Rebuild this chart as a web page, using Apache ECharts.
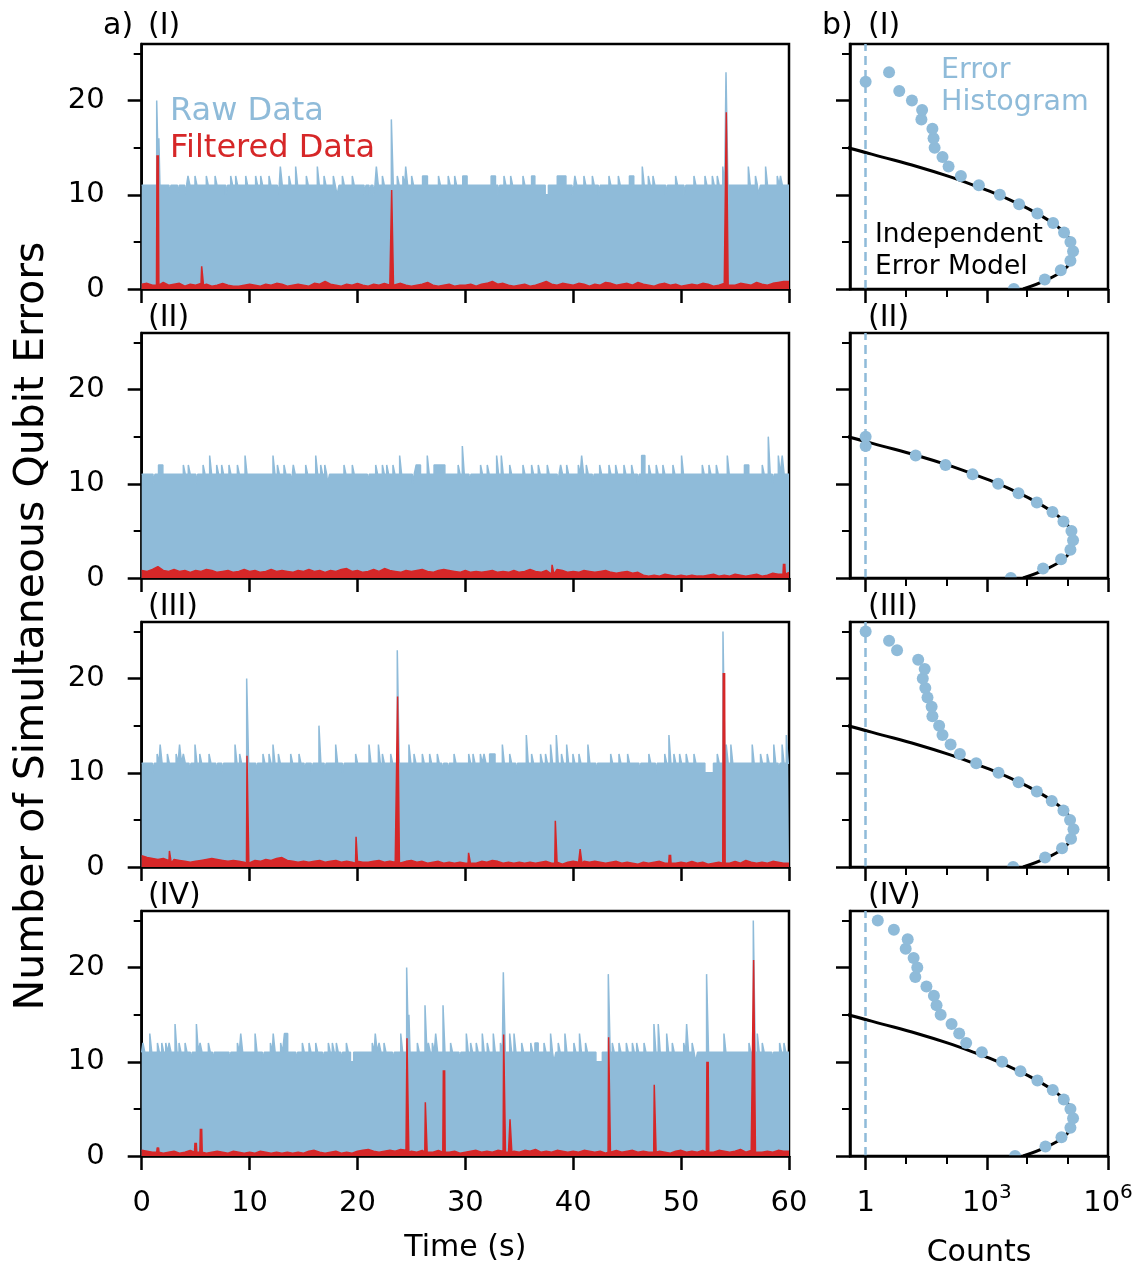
<!DOCTYPE html>
<html><head><meta charset="utf-8">
<script src="https://cdn.jsdelivr.net/npm/echarts@6/dist/echarts.min.js"></script>
<style>html,body{margin:0;padding:0;background:#fff}#c{width:1139px;height:1269px}</style>
</head><body><div id="c"></div>
<script>
// ---------------- DATA ----------------
const timeTicks = [0, 10, 20, 30, 40, 50, 60];
const nTicks = [0, 10, 20];
const nMinorTicks = [5, 15, 25];
const countTicks = [1, 1e3, 1e6];
const countMinorTicks = [10, 100, 1e4, 1e5];
const panelLabels = ['(I)', '(II)', '(III)', '(IV)'];

const RAW_BASE = 11;           // typical top of the raw-data band
// raw data excursions from the band top: [time (s), number of errors, width (s, optional)]
const rawEventsI = [[1.48,20],[1.64,16,0.1],[2.62,10],[3.4,10],[4.07,10],[4.38,12],[5.03,12],[6.08,12],[6.89,12],[7.87,10],[8.34,12],[8.8,12],[9.73,12],[10.65,12],[11.12,12],[11.89,12],[12.66,10],[12.94,13],[13.74,12],[14.36,13],[15.35,12],[16.37,13],[16.99,12],[17.85,12],[18.2,10],[18.69,12],[19.61,12],[20.7,10],[21.16,10],[21.53,10],[21.84,13],[22.4,12],[23.23,18],[23.78,12],[24.3,12],[24.56,13],[25.11,12],[26.26,12,0.45],[27.6,12],[28.5,12],[29.1,12],[29.96,12,0.4],[32.59,12,0.4],[33.1,10],[33.67,12],[34.29,12],[35.43,12],[36.29,12,0.3],[37.55,10,0.3],[38.92,12,0.8],[39.98,10],[40.24,12],[41.08,12],[41.86,12],[42.41,10],[43.4,12],[44.27,12],[45.41,12,0.4],[46.49,13],[47.05,12],[47.48,12],[48.65,10],[49.58,12],[50.35,10],[51.28,12],[52.3,12],[52.98,12],[53.44,12],[53.95,13],[54.25,23],[56.32,13],[56.98,12],[57.26,10],[57.92,13],[59.0,12],[59.3,12]];
const rawEventsII = [[1.14,10],[1.76,12,0.4],[3.95,12],[4.41,12],[5.1,10],[5.78,12],[6.39,13],[7.04,12],[7.5,12],[8.18,12],[8.96,12],[9.67,13],[12.26,13],[12.67,12],[13.28,12],[13.88,10],[14.14,12],[15.29,12],[16.22,13],[16.68,12],[17.06,12],[17.32,10],[18.84,12],[19.61,12],[21.0,10],[21.78,12],[22.4,12],[22.8,12],[23.38,12],[24.0,13],[25.17,10],[25.64,12,0.4],[26.56,13],[27.6,12,1.0],[29.42,12],[29.81,14],[30.43,10],[31.5,12],[32.12,12],[32.99,13],[33.42,13],[34.2,12],[35.43,12],[36.23,12],[36.85,12],[37.68,12],[38.6,10],[38.92,12],[39.48,12],[40.56,12],[40.87,13],[41.3,12],[41.85,10],[42.54,12],[43.4,12],[44.02,12],[44.79,12],[45.5,12],[46.03,10],[46.49,13,0.3],[47.1,12],[47.78,12],[48.4,12],[49.33,12],[50.13,13],[52.05,12],[52.67,12],[53.35,12],[54.37,13],[56.07,12,0.4],[57.61,12],[58.17,15],[58.54,10],[59.1,13],[59.46,13]];
const rawEventsIII = [[1.08,10],[1.52,12],[1.8,13],[2.47,12],[3.28,12],[3.6,13],[3.95,12],[4.48,10],[5.03,13],[5.47,12],[6.33,12],[6.95,10],[7.5,10],[8.74,13],[9.17,12],[9.82,20],[10.65,10],[11.33,12],[11.89,12],[12.26,13],[12.76,12],[13.9,12],[14.67,12],[15.14,10],[15.8,10],[16.52,15],[17.0,10],[18.07,13],[18.69,10],[19.92,12],[21.16,13],[22.03,13],[22.4,12],[23.17,12],[23.78,23],[24.86,13],[25.33,12],[26.1,12],[26.78,12],[27.49,12],[27.9,10],[28.42,10],[29.04,12],[30.4,12],[30.8,12],[31.48,12],[31.82,12],[32.5,12,0.5],[33.52,13],[34.2,12],[34.75,10],[35.74,14],[36.23,12],[37.06,12],[37.52,12],[37.99,13],[38.52,14],[39.0,12],[39.48,13],[40.06,12],[40.62,12],[41.45,13],[42.17,10],[43.56,12],[44.33,12],[45.13,12],[46.18,10],[47.1,12],[47.7,10],[48.57,12],[48.96,14],[49.42,12],[49.95,12],[50.56,12],[51.28,12],[52.6,10,0.8],[53.44,12],[53.97,25],[54.27,13],[54.7,13],[56.68,13],[57.45,12],[58.07,12],[58.68,13],[59.08,10],[59.45,13],[59.84,14]];
const rawEventsIV = [[0.2,12],[0.84,13],[1.55,12],[1.95,12],[2.32,12],[2.63,12],[3.18,14],[3.55,12],[4.11,12],[4.6,10],[5.16,14],[5.5,12],[6.27,12],[6.64,10],[8.18,10],[8.96,12],[9.27,13],[10.6,13],[11.27,10],[12.02,12],[12.28,13],[12.97,12],[13.38,13,0.3],[14.36,10],[14.98,12],[15.6,12],[16.22,12],[16.84,10],[17.39,12],[17.76,12],[18.13,12],[18.53,10],[19.06,12],[19.5,10,0.3],[21.46,12],[21.74,13],[22.09,12],[22.55,12],[23.33,10],[24.1,13],[24.65,20],[24.82,15,0.1],[25.64,12],[26.35,16],[26.66,12],[27.03,12],[27.34,13],[28.02,16],[28.72,12],[29.5,10],[30.18,13],[30.58,12],[31.1,12],[31.66,13],[32.12,12],[32.68,13],[33.34,12],[33.61,19.5],[34.2,13],[34.6,13],[35.31,12],[36.15,12],[36.6,12,0.3],[37.38,12],[37.99,13],[38.3,10],[38.7,12],[39.32,13],[40.15,12],[40.67,13],[41.23,12],[42.4,10,0.6],[43.34,19.3],[43.71,12],[44.33,12],[45.01,12],[45.57,12],[45.97,12],[46.65,12],[47.57,14],[47.97,14],[48.75,13],[49.27,12],[50.33,12],[50.6,14],[51.11,12],[51.43,10],[52.45,19.3],[54.06,13],[56.38,12],[56.78,25],[57.15,13],[57.61,12],[58.48,10],[59.22,12],[59.62,12]];

// filtered data: values every 0.5 s, plus short bursts [time (s), number of errors]
const redNoiseI = [0.5,0.6,0.4,0.5,0.7,0.4,0.5,0.6,0.3,0.5, 0.4,0.6,0.5,0.3,0.4,0.6,0.4,0.3,0.3,0.4, 0.5,0.4,0.3,0.5,0.4,0.6,0.5,0.3,0.4,0.5, 0.4,0.3,0.6,0.5,0.8,0.5,0.4,0.3,0.5,0.4, 0.6,0.4,0.3,0.5,0.4,0.6,0.4,0.5,0.6,0.4, 0.3,0.4,0.5,0.7,0.4,0.3,0.4,0.5,0.3,0.4, 0.4,0.5,0.3,0.5,0.6,0.8,0.5,0.6,0.4,0.3, 0.4,0.5,0.3,0.4,0.6,0.8,0.5,0.4,0.6,0.5, 0.4,0.6,0.5,0.3,0.5,0.4,0.7,0.6,0.4,0.5, 0.6,0.4,0.7,0.5,0.4,0.3,0.5,0.6,0.4,0.5, 0.3,0.4,0.5,0.4,0.6,0.5,0.3,0.4,0.6,0.5, 0.4,0.6,0.5,0.4,0.7,0.5,0.4,0.6,0.7,0.8];
const redNoiseII = [0.8,0.7,0.9,1.2,0.8,0.7,0.9,0.7,0.8,0.6, 0.8,0.7,0.9,0.8,0.6,0.7,0.8,0.6,0.7,0.9, 0.7,0.8,0.6,0.7,0.9,0.7,0.8,0.7,0.6,0.8, 0.7,0.9,0.7,0.8,0.6,0.8,0.7,0.9,1.0,0.7, 0.8,0.6,0.7,0.9,0.7,1.0,0.8,0.7,0.6,0.8, 0.7,0.8,0.9,0.7,0.6,0.8,0.9,0.8,0.7,0.6, 0.8,0.6,0.7,0.6,0.7,0.8,0.6,0.7,0.6,0.8, 0.6,0.7,0.9,0.7,0.6,0.8,0.7,0.9,0.8,0.6, 0.7,0.6,0.8,0.7,0.6,0.7,0.8,0.6,0.5,0.6, 0.7,0.5,0.6,0.3,0.2,0.3,0.2,0.4,0.3,0.2, 0.3,0.2,0.3,0.2,0.2,0.3,0.4,0.2,0.3,0.2, 0.4,0.3,0.2,0.3,0.4,0.2,0.3,0.5,0.4,0.6];
const redNoiseIII = [1.2,1.0,0.9,0.8,0.9,0.7,0.8,0.7,0.6,0.5, 0.6,0.7,0.8,0.9,0.8,0.7,0.6,0.7,0.6,0.5, 0.6,0.7,0.6,0.8,0.7,0.9,1.0,0.7,0.6,0.5, 0.6,0.5,0.6,0.7,0.5,0.6,0.7,0.5,0.6,0.5, 0.6,0.5,0.5,0.6,0.7,0.5,0.6,0.5,0.5,0.6, 0.7,0.5,0.6,0.4,0.5,0.6,0.4,0.5,0.4,0.5, 0.4,0.5,0.4,0.6,0.5,0.7,0.6,0.4,0.5,0.4, 0.5,0.4,0.5,0.4,0.5,0.6,0.4,0.5,0.3,0.5, 0.6,0.5,0.6,0.5,0.6,0.5,0.4,0.5,0.6,0.4, 0.5,0.4,0.3,0.5,0.4,0.5,0.6,0.4,0.5,0.4, 0.5,0.4,0.6,0.4,0.5,0.3,0.4,0.5,0.5,0.4, 0.6,0.4,0.7,0.5,0.4,0.5,0.4,0.6,0.5,0.4];
const redNoiseIV = [0.6,0.5,0.4,0.6,0.3,0.4,0.5,0.3,0.4,0.6, 0.5,0.4,0.3,0.4,0.5,0.4,0.3,0.5,0.4,0.3, 0.4,0.3,0.5,0.4,0.3,0.4,0.3,0.4,0.3,0.4, 0.3,0.5,0.6,0.4,0.3,0.4,0.5,0.3,0.4,0.3, 0.5,0.6,0.7,0.5,0.4,0.5,0.6,0.5,0.7,0.6, 0.5,0.4,0.6,0.5,0.4,0.6,0.5,0.4,0.5,0.3, 0.4,0.5,0.6,0.4,0.5,0.4,0.6,0.5,0.4,0.5, 0.4,0.6,0.5,0.7,0.4,0.5,0.4,0.6,0.5,0.4, 0.5,0.4,0.6,0.5,0.4,0.5,0.3,0.4,0.6,0.4, 0.5,0.6,0.4,0.5,0.4,0.6,0.5,0.4,0.3,0.5, 0.6,0.4,0.5,0.4,0.6,0.5,0.4,0.6,0.5,0.4, 0.5,0.7,0.4,0.6,0.5,0.4,0.5,0.4,0.6,0.5];
const redSpikesI = [[1.48,14.2],[5.62,2.4],[23.23,10.5],[54.25,18.75]];
const redSpikesII = [[38.1,1.4],[59.55,1.5]];
const redSpikesIII = [[2.63,1.7],[9.82,11.8],[19.93,3.2],[23.78,18.1],[30.36,1.5],[38.4,4.9],[40.7,1.9],[48.96,1.3],[53.97,20.6]];
const redSpikesIV = [[1.5,0.9],[5.0,1.4],[5.5,2.9],[24.65,12.5],[26.35,5.7],[28.02,9.1],[33.61,12.9],[34.2,3.9],[43.34,12.6],[47.57,7.55],[52.45,10.0],[56.78,20.8]];

// error histograms: counts for n = 0,1,2,... simultaneous errors
const histI = [4660,27200,67700,117500,136500,117500,81700,43700,17900,6300,2100,635,228,113,80,51,48,45,24,25,14,6.8,1,3.8];
const histII = [3930,24700,68900,117500,136500,124500,78900,42200,17300,6090,1905,443,95,17.3,1,1];
const histIII = [4480,27700,72900,121700,139600,115000,78900,40500,17300,6090,1950,545,215,127,80,66,45,43,34,30,26,29,20,6,3.8,1];
const histIV = [5000,28300,70500,117500,136500,117500,80300,42900,17900,6820,2390,753,308,207,134,72,57,49,32,17,19,15.4,9.8,11,5,2];
// independent error model curve: [n, counts]
const modelN = [0,1,2,3,4,5,6,7,8,9,10,11,12,13,14,15,15.5];
const modelCounts = [7900,31600,79400,123000,138000,123000,83200,42700,17800,6300,1950,479,105,18.6,2.6,0.35,0.11];

// ---------------- STYLE ----------------
const BLUE = '#8fbbd9', RED = '#d62728', FONT = 'DejaVu Sans';
const TOPS = [44, 333, 622, 911], H = 245;
const LX = 141.7, LW = 647.3, RX = 850, RW = 258;

const rawSets = [rawEventsI, rawEventsII, rawEventsIII, rawEventsIV];
const redNoises = [redNoiseI, redNoiseII, redNoiseIII, redNoiseIV];
const redSpikes = [redSpikesI, redSpikesII, redSpikesIII, redSpikesIV];
const hists = [histI, histII, histIII, histIV];

function buildRaw(events) {
  const ev = events.slice().sort((a, b) => a[0] - b[0]);
  const pts = [[0, RAW_BASE]];
  ev.forEach(e => { const w = e[2] || 0.18, a = e[0] - w / 2, b = e[0] + w / 2;
    pts.push([a, RAW_BASE], [a, e[1]], [b, e[1]], [b, RAW_BASE]); });
  pts.push([60, RAW_BASE]);
  return pts;
}
function buildRed(noise, spikes) {
  const pts = noise.map((v, i) => [i * 0.5, v]);
  pts.push([60, noise[noise.length - 1]]);
  spikes.forEach(s => { pts.push([s[0] - 0.11, 0.4], [s[0] - 0.06, s[1]], [s[0] + 0.06, s[1]], [s[0] + 0.11, 0.4]); });
  pts.sort((a, b) => a[0] - b[0]);
  return pts;
}

const axLine = {show: true, onZero: false, lineStyle: {color: '#000', width: 2.5}};
const tickMajor = vals => ({show: true, inside: false, length: 14, customValues: vals, lineStyle: {color: '#000', width: 2.5}});
const tickMinor = vals => ({show: true, inside: false, length: 8, customValues: vals, lineStyle: {color: '#000', width: 2}});
const labelStyle = {color: '#000', fontSize: 29, fontFamily: FONT};

const grid = [], xAxis = [], yAxis = [], series = [];
for (let i = 0; i < 4; i++) grid.push({left: LX, top: TOPS[i], width: LW, height: H, show: true, borderColor: '#000', borderWidth: 2.5, backgroundColor: 'transparent', outerBoundsMode: 'none'});
for (let i = 0; i < 4; i++) grid.push({left: RX, top: TOPS[i], width: RW, height: H, show: true, borderColor: '#000', borderWidth: 2.5, backgroundColor: 'transparent', outerBoundsMode: 'none'});

// x axes 0-3: time; 4-7: counts major; 8-11: counts minor
for (let i = 0; i < 4; i++) {
  const bottom = i === 3;
  xAxis.push({type: 'value', gridIndex: i, min: 0, max: 60, interval: 10, position: 'bottom',
    axisLine: axLine, axisTick: tickMajor(timeTicks), splitLine: {show: false},
    axisLabel: Object.assign({show: bottom, margin: 33, customValues: timeTicks}, labelStyle),
    name: bottom ? 'Time (s)' : '', nameLocation: 'middle', nameGap: 77,
    nameTextStyle: {color: '#000', fontSize: 30, fontFamily: FONT}});
}
for (let i = 0; i < 4; i++) {
  const bottom = i === 3;
  xAxis.push({type: 'log', logBase: 10, gridIndex: 4 + i, min: 0.41, max: 1e6, position: 'bottom', z: 10,
    axisLine: axLine, axisTick: tickMajor(countTicks), splitLine: {show: false},
    axisLabel: {show: bottom, margin: 27, customValues: countTicks,
      formatter: v => { const e = Math.round(Math.log10(v)); return e === 0 ? '{b|1}' : '{b|10}{s|' + e + '}'; },
      rich: {b: {fontSize: 29, lineHeight: 40, fontFamily: FONT, color: '#000'},
             s: {fontSize: 20, lineHeight: 20, verticalAlign: 'top', fontFamily: FONT, color: '#000'}}},
    name: bottom ? 'Counts' : '', nameLocation: 'middle', nameGap: 82,
    nameTextStyle: {color: '#000', fontSize: 30, fontFamily: FONT}});
}
for (let i = 0; i < 4; i++) {
  xAxis.push({type: 'log', logBase: 10, gridIndex: 4 + i, min: 0.41, max: 1e6, position: 'bottom', offset: 0, z: 10,
    axisLine: {show: false}, axisTick: tickMinor(countMinorTicks), axisLabel: {show: false}, splitLine: {show: false}});
}
// y axes 0-3: left major; 4-7: left minor; 8-11: right major; 12-15: right minor
for (let i = 0; i < 4; i++) yAxis.push({type: 'value', gridIndex: i, min: 0, max: 26, interval: 10, position: 'left',
  axisLine: axLine, axisTick: tickMajor(nTicks), splitLine: {show: false},
  axisLabel: Object.assign({show: true, margin: 37, customValues: nTicks}, labelStyle)});
for (let i = 0; i < 4; i++) yAxis.push({type: 'value', gridIndex: i, min: 0, max: 26, position: 'left', offset: 0,
  axisLine: {show: false}, axisTick: tickMinor(nMinorTicks), axisLabel: {show: false}, splitLine: {show: false}});
for (let i = 0; i < 4; i++) yAxis.push({type: 'value', gridIndex: 4 + i, min: 0, max: 26, interval: 10, position: 'left', z: 10,
  axisLine: axLine, axisTick: tickMajor(nTicks), axisLabel: {show: false}, splitLine: {show: false}});
for (let i = 0; i < 4; i++) yAxis.push({type: 'value', gridIndex: 4 + i, min: 0, max: 26, position: 'left', offset: 0, z: 10,
  axisLine: {show: false}, axisTick: tickMinor(nMinorTicks), axisLabel: {show: false}, splitLine: {show: false}});

for (let i = 0; i < 4; i++) {
  series.push({type: 'line', xAxisIndex: i, yAxisIndex: i, data: buildRaw(rawSets[i]), showSymbol: false, symbol: 'none',
    lineStyle: {color: BLUE, width: 1.5}, areaStyle: {color: BLUE, opacity: 1}, silent: true, z: 2});
  series.push({type: 'line', xAxisIndex: i, yAxisIndex: i, data: buildRed(redNoises[i], redSpikes[i]), showSymbol: false, symbol: 'none',
    lineStyle: {color: RED, width: 1.5}, areaStyle: {color: RED, opacity: 1}, silent: true, z: 3});
  series.push({type: 'line', xAxisIndex: 4 + i, yAxisIndex: 8 + i, data: modelN.map((n, k) => [modelCounts[k], n]),
    showSymbol: false, symbol: 'none', smooth: 0.4, lineStyle: {color: '#000', width: 3}, silent: true, z: 2});
  series.push({type: 'scatter', xAxisIndex: 4 + i, yAxisIndex: 8 + i, data: hists[i].map((c, n) => [c, n]),
    symbolSize: 12, itemStyle: {color: BLUE, opacity: 1}, silent: true, z: 3,
    markLine: {silent: true, symbol: ['none', 'none'], label: {show: false}, animation: false,
      lineStyle: {color: BLUE, type: [9, 5], width: 2.5}, data: [{xAxis: 1}]}});
}

const txt = (x, y, text, size, color, extra) => Object.assign({type: 'text', x: x, y: y, silent: true, z: 10,
  style: {text: text, fontSize: size, fontFamily: FONT, fill: color, align: 'left', verticalAlign: 'middle', textAlign: 'left', textVerticalAlign: 'middle'}}, extra || {});
const graphic = [
  txt(103, 26, 'a)', 30, '#000'), txt(822, 26, 'b)', 30, '#000'),
  txt(170, 112, 'Raw Data', 32, BLUE), txt(170, 149, 'Filtered Data', 32, RED),
  txt(941, 71, 'Error', 28.5, BLUE), txt(941, 103, 'Histogram', 28.5, BLUE),
  txt(875, 235, 'Independent', 26.5, '#000'), txt(875, 267, 'Error Model', 26.5, '#000'),
  {type: 'text', x: 32, y: 626, rotation: Math.PI / 2, silent: true,
   style: {text: 'Number of Simultaneous Qubit Errors', fontSize: 41, fontFamily: FONT, fill: '#000', align: 'center', verticalAlign: 'middle', textAlign: 'center', textVerticalAlign: 'middle'}}
];
const labelY = [26, 318, 607, 896];
for (let i = 0; i < 4; i++) {
  graphic.push(txt(148, labelY[i], panelLabels[i], 30, '#000'));
  graphic.push(txt(868, labelY[i], panelLabels[i], 30, '#000'));
  // hide the part of the n = 0 histogram dots that falls below the axis (clipped in the original)
  graphic.push({type: 'rect', silent: true, z: 5, shape: {x: RX + 2, y: TOPS[i] + H + 1.3, width: RW - 2, height: 6}, style: {fill: '#fff'}});
}

const chart = echarts.init(document.getElementById('c'), null, {renderer: 'canvas'});
chart.setOption({animation: false, backgroundColor: '#fff', textStyle: {fontFamily: FONT}, grid, xAxis, yAxis, series, graphic});
</script></body></html>
